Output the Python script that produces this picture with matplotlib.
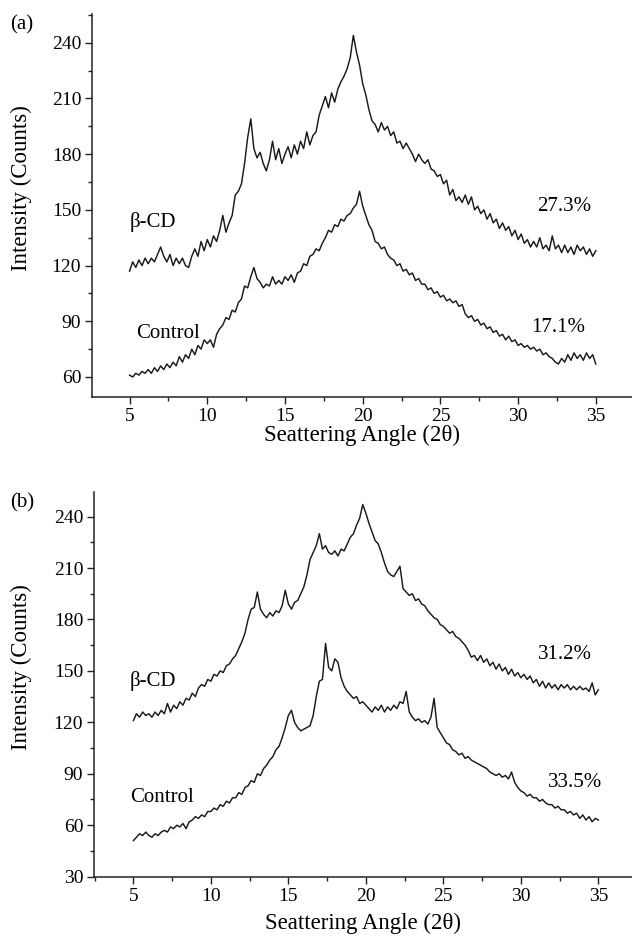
import numpy as np
import matplotlib
matplotlib.use('Agg')
import matplotlib.pyplot as plt
from matplotlib.ticker import MultipleLocator

plt.rcParams['font.family'] = ['Liberation Serif', 'DejaVu Serif']

# intensities, 2-theta from 5 to 35 in 0.2 steps
a_bcd = [117, 122, 119, 123, 120, 124, 121, 124, 122, 126,
         130, 125, 122, 126, 120, 124, 121, 124, 120, 119,
         125, 129, 125, 133, 128, 134, 130, 136, 133, 139,
         147, 138, 143, 147, 158, 160, 164, 175, 189, 199,
         183, 178, 181, 175, 171, 177, 187, 177, 183, 175,
         180, 184, 178, 185, 180, 187, 183, 192, 185, 190,
         192, 201, 206, 211, 205, 213, 208, 215, 219, 222,
         226, 232, 244, 235, 228, 218, 212, 204, 198, 196,
         192, 197, 193, 195, 190, 192, 186, 187, 183, 186,
         183, 180, 176, 180, 177, 175, 177, 172, 171, 168,
         169, 164, 166, 158, 161, 155, 157, 154, 158, 153,
         157, 150, 152, 148, 150, 145, 148, 143, 145, 140,
         143, 139, 141, 136, 139, 134, 137, 132, 134, 130,
         133, 130, 135, 129, 131, 128, 136, 129, 131, 127,
         131, 127, 130, 126, 131, 128, 130, 126, 129, 125,
         128]
a_ctrl = [61, 60, 62, 61, 63, 62, 64, 62, 65, 63,
          66, 64, 67, 65, 68, 66, 71, 68, 72, 70,
          75, 72, 77, 75, 80, 78, 80, 76, 83, 86,
          88, 92, 91, 96, 95, 100, 102, 109, 108, 114,
          119, 113, 111, 108, 110, 109, 114, 110, 112, 110,
          114, 112, 115, 111, 116, 117, 121, 120, 125, 126,
          129, 128, 132, 135, 139, 138, 142, 141, 145, 144,
          147, 148, 151, 153, 160, 152, 147, 142, 139, 133,
          132, 129, 130, 126, 124, 123, 120, 121, 117, 118,
          115, 116, 112, 113, 110, 110, 107, 108, 105, 106,
          103, 104, 101, 102, 100, 101, 98, 99, 94, 92,
          93, 90, 91, 88, 89, 86, 87, 84, 85, 82,
          83, 80, 82, 79, 80, 77, 78, 76, 77, 75,
          76, 74, 75, 72, 73, 71, 70, 68, 67, 70,
          68, 72, 69, 73, 70, 72, 69, 73, 70, 72,
          67]
b_bcd = [121, 125, 123, 126, 124, 125, 123, 126, 124, 127,
         125, 131, 126, 130, 128, 132, 130, 134, 133, 137,
         135, 140, 142, 141, 145, 144, 148, 147, 150, 149,
         153, 154, 157, 159, 163, 167, 172, 180, 186, 187,
         196, 186, 183, 181, 184, 182, 185, 184, 188, 197,
         189, 186, 190, 191, 195, 199, 206, 215, 219, 223,
         230, 221, 223, 219, 218, 220, 217, 221, 220, 224,
         228, 230, 235, 239, 247, 242, 236, 231, 226, 224,
         219, 213, 208, 206, 205, 208, 211, 198, 196, 194,
         195, 191, 192, 189, 188, 185, 183, 181, 180, 177,
         176, 174, 172, 173, 170, 169, 167, 165, 162, 158,
         159, 156, 159, 155, 157, 153, 155, 151, 154, 150,
         152, 148, 151, 147, 149, 146, 148, 145, 147, 143,
         145, 141, 144, 140, 143, 140, 142, 139, 142, 140,
         142, 139, 141, 139, 141, 139, 140, 138, 143, 136,
         139]
b_ctrl = [51, 53, 55, 54, 56, 54, 53, 55, 54, 56,
          57, 56, 59, 58, 60, 59, 61, 58, 62, 63,
          65, 64, 66, 65, 68, 68, 70, 69, 72, 71,
          74, 73, 76, 76, 79, 78, 82, 83, 86, 85,
          90, 89, 93, 95, 98, 100, 104, 106, 111, 117,
          124, 127, 120, 117, 115, 116, 117, 118, 124, 135,
          144, 145, 166, 152, 150, 157, 155, 146, 141, 138,
          136, 134, 135, 131, 132, 130, 128, 126, 129, 127,
          130, 126, 129, 127, 130, 128, 132, 131, 138, 126,
          123, 121, 122, 120, 121, 119, 123, 134, 117, 114,
          111, 108, 107, 104, 103, 101, 102, 99, 100, 98,
          97, 96, 95, 94, 93, 91, 90, 89, 90, 88,
          89, 87, 91, 85, 82, 80, 79, 77, 78, 76,
          76, 74, 75, 73, 72, 72, 70, 71, 69, 69,
          67, 68, 66, 67, 64, 66, 63, 65, 62, 64,
          63]

panels = [
    dict(tag='(a)', bcd=a_bcd, ctrl=a_ctrl,
         crys=('27.3%', '17.1%'), ylim=(49.4, 255.5), xlim=(2.6, 37.33),
         rect=(0.146, 0.5771, 0.854, 0.408),
         pos=[(6.5, 143.5), (7.46, 83.2), (32.94, 152), (32.56, 86.9)],
         xlab=(0.5, -0.074), ylab=(-0.112, 0.545)),
    dict(tag='(b)', bcd=b_bcd, ctrl=b_ctrl,
         crys=('31.2%', '33.5%'), ylim=(30, 254.5), xlim=(2.48, 37.17),
         rect=(0.1492, 0.0654, 0.8508, 0.4104),
         pos=[(6.27, 144.1), (6.85, 76.2), (32.85, 159.8), (33.5, 85)],
         xlab=(0.5, -0.094), ylab=(-0.116, 0.545)),
]

fig = plt.figure(figsize=(6.32, 9.38), dpi=100)

for p in panels:
    ax = fig.add_axes(p['rect'])
    for vals in (p['bcd'], p['ctrl']):
        ang = np.linspace(5, 35, len(vals))
        ax.plot(ang, vals, color='#1a1a1a', lw=1.05)
    ax.set_xlim(*p['xlim'])
    ax.set_ylim(*p['ylim'])
    ax.xaxis.set_major_locator(MultipleLocator(5))
    ax.xaxis.set_minor_locator(MultipleLocator(2.5))
    ax.yaxis.set_major_locator(MultipleLocator(30))
    ax.yaxis.set_minor_locator(MultipleLocator(15))
    for s in ('top', 'right'):
        ax.spines[s].set_visible(False)
    for s in ('left', 'bottom'):
        ax.spines[s].set_linewidth(1.1)
        ax.spines[s].set_color('#222222')
    ax.tick_params(which='major', direction='out', length=5, width=1.0,
                   labelsize=14, color='#222222', pad=3)
    ax.tick_params(which='minor', direction='out', length=3, width=1.0,
                   color='#222222')
    ax.set_ylabel('Intensity (Counts)', fontsize=16.5)
    ax.yaxis.set_label_coords(*p['ylab'])
    ax.set_xlabel('Seattering Angle (2θ)', fontsize=16.5)
    ax.xaxis.set_label_coords(*p['xlab'])
    labels = ['β-CD', 'Control', p['crys'][0], p['crys'][1]]
    for lab, (tx, ty) in zip(labels, p['pos']):
        ax.text(tx, ty, lab, fontsize=15, ha='center', va='center')
    bb = p['rect']
    fig.text(22 / 632, bb[1] + bb[3] - 11 / 938, p['tag'], fontsize=15,
             ha='center', va='center')

fig.savefig('out.png', dpi=100)
